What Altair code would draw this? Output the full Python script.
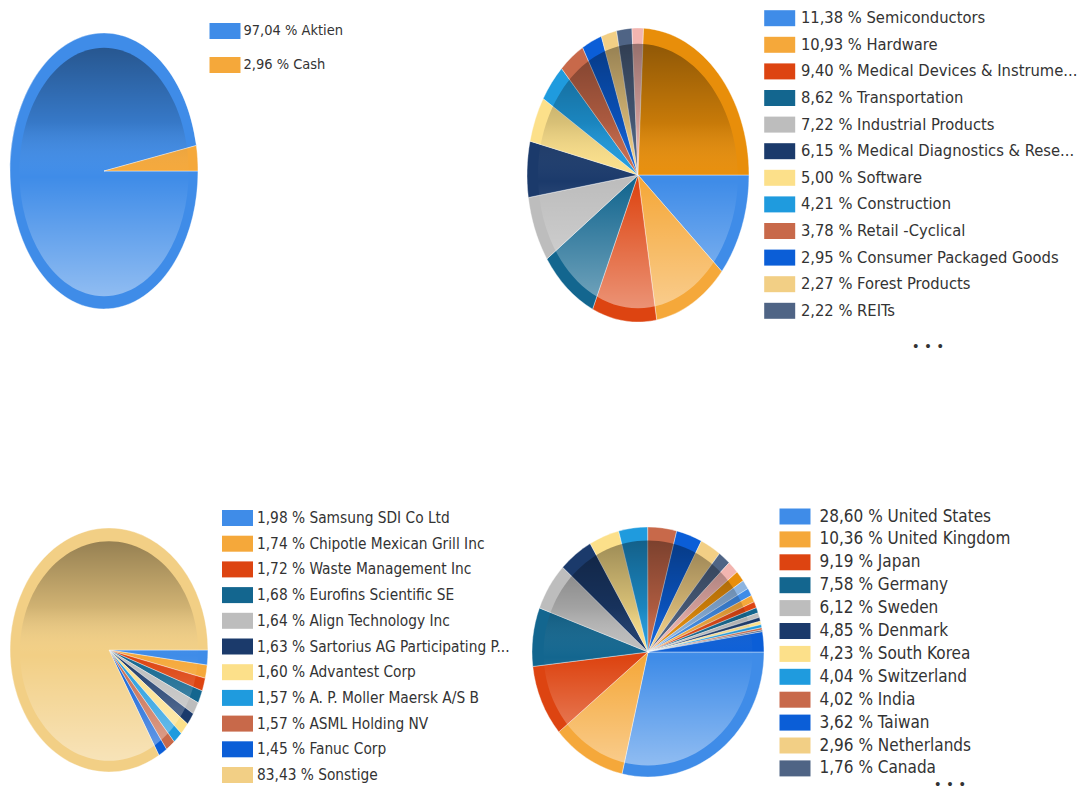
import altair as alt
import pandas as pd

FONT = "DejaVu Sans Condensed, DejaVu Sans"

alloc_labels = ["97,04 % Aktien", "2,96 % Cash"]
alloc_values = [97.04, 2.96]
alloc_colors = ["#3F8CE8", "#F5A83A"]

sector_labels = ["11,38 % Semiconductors", "10,93 % Hardware",
                 "9,40 % Medical Devices & Instrume...", "8,62 % Transportation",
                 "7,22 % Industrial Products", "6,15 % Medical Diagnostics & Rese...",
                 "5,00 % Software", "4,21 % Construction", "3,78 % Retail -Cyclical",
                 "2,95 % Consumer Packaged Goods", "2,27 % Forest Products",
                 "2,22 % REITs", "1,67 % Weitere", "24,20 % Sonstige"]
sector_values = [11.38, 10.93, 9.40, 8.62, 7.22, 6.15, 5.00, 4.21, 3.78, 2.95,
                 2.27, 2.22, 1.67, 24.20]
sector_colors = ["#3F8CE8", "#F5A83A", "#DD4411", "#13668F", "#BDBDBD", "#1B3A6B",
                 "#FCE08A", "#1F9BDE", "#C8694A", "#0B5ED7", "#F2CF85", "#4F6485",
                 "#F2B5B0", "#E88E0A"]
sector_shown = 12

holding_labels = ["1,98 % Samsung SDI Co Ltd", "1,74 % Chipotle Mexican Grill Inc",
                  "1,72 % Waste Management Inc", "1,68 % Eurofins Scientific SE",
                  "1,64 % Align Technology Inc", "1,63 % Sartorius AG Participating P...",
                  "1,60 % Advantest Corp", "1,57 % A. P. Moller Maersk A/S B",
                  "1,57 % ASML Holding NV", "1,45 % Fanuc Corp", "83,43 % Sonstige"]
holding_values = [1.98, 1.74, 1.72, 1.68, 1.64, 1.63, 1.60, 1.57, 1.57, 1.45, 83.43]
holding_colors = ["#3F8CE8", "#F5A83A", "#DD4411", "#13668F", "#BDBDBD", "#1B3A6B",
                  "#FCE08A", "#1F9BDE", "#C8694A", "#0B5ED7", "#F2CF85"]
holding_shown = 11

country_labels = ["28,60 % United States", "10,36 % United Kingdom", "9,19 % Japan",
                  "7,58 % Germany", "6,12 % Sweden", "4,85 % Denmark",
                  "4,23 % South Korea", "4,04 % Switzerland", "4,02 % India",
                  "3,62 % Taiwan", "2,96 % Netherlands", "1,76 % Canada",
                  "1,60 % France", "1,40 % Finland", "1,20 % Norway", "1,00 % Spain",
                  "0,90 % Italy", "0,80 % Australia", "0,70 % Ireland",
                  "0,60 % Belgium", "0,50 % Israel", "0,45 % Singapore",
                  "0,40 % Austria", "0,30 % Brazil", "0,22 % Mexico",
                  "2,60 % Sonstige"]
country_values = [28.60, 10.36, 9.19, 7.58, 6.12, 4.85, 4.23, 4.04, 4.02, 3.62, 2.96,
                  1.76, 1.60, 1.40, 1.20, 1.00, 0.90, 0.80, 0.70, 0.60, 0.50, 0.45,
                  0.40, 0.30, 0.22, 2.60]
country_colors = ["#3F8CE8", "#F5A83A", "#DD4411", "#13668F", "#BDBDBD", "#1B3A6B",
                  "#FCE08A", "#1F9BDE", "#C8694A", "#0B5ED7", "#F2CF85", "#4F6485",
                  "#F2B5B0", "#E88E0A", "#8CB4E0", "#3F8CE8", "#F5A83A", "#DD4411",
                  "#13668F", "#BDBDBD", "#1B3A6B", "#FCE08A", "#1F9BDE", "#C8694A",
                  "#4F6485", "#0B5ED7"]
country_shown = 12

# legend swatch: 31 x 16 px drawn with a 16 px nominal symbol size
SWATCH = "M-1.9375,-1H1.9375V1H-1.9375Z"

GRAD = alt.LinearGradient(
    gradient="linear", x1=0, x2=0, y1=0, y2=1,
    stops=[alt.GradientStop(color="rgba(0,0,0,0.38)", offset=0),
           alt.GradientStop(color="rgba(0,0,0,0.14)", offset=0.3),
           alt.GradientStop(color="rgba(255,255,255,0)", offset=0.52),
           alt.GradientStop(color="rgba(255,255,255,0.42)", offset=1)])


def rnd(e):
    return "(round((%s)*100000)/100000)" % e


def pie(labels, values, colors, shown, cx, cy, ry_px, aspect, lx, ly, row_pad,
        font_size, label_offset):
    df = pd.DataFrame({"label": labels, "value": values,
                       "idx": list(range(len(labels)))})
    size = (2 * ry_px) ** 2
    rx = aspect
    path = (
        "'M0,0L' + " + rnd("%s*cos(datum.a0)" % rx) + " + ',' + " + rnd("sin(datum.a0)") +
        " + 'A%s,1 0 ' + (datum.a1 - datum.a0 > PI ? '1' : '0') + ' 1 ' + " % rx +
        rnd("%s*cos(datum.a1)" % rx) + " + ',' + " + rnd("sin(datum.a1)") + " + 'Z'"
    )
    wedges = (
        alt.Chart(df)
        .transform_joinaggregate(total="sum(value)")
        .transform_window(cum="sum(value)", sort=[alt.SortField("idx")])
        .transform_calculate(a0="2*PI*(datum.cum - datum.value)/datum.total",
                             a1="2*PI*datum.cum/datum.total")
        .transform_calculate(wpath=path)
        .mark_point(filled=True, opacity=1, stroke="white", strokeWidth=0.7,
                    strokeOpacity=0.55)
        .encode(
            x=alt.value(cx), y=alt.value(cy), size=alt.value(size),
            shape=alt.Shape("wpath:N", scale=None),
            color=alt.Color(
                "label:N",
                scale=alt.Scale(domain=labels, range=colors),
                legend=alt.Legend(
                    orient="none", legendX=lx, legendY=ly, title=None,
                    values=labels[:shown], symbolType=SWATCH, symbolSize=256,
                    symbolStrokeWidth=0, symbolOpacity=1, labelFont=FONT,
                    labelFontSize=font_size, labelColor="#333333", labelLimit=500,
                    rowPadding=row_pad, padding=0, labelOffset=label_offset),
            ),
        )
    )
    inner = 0.9
    ell = "'M%(rx)s,0A%(rx)s,1 0 1 1 -%(rx)s,0A%(rx)s,1 0 1 1 %(rx)s,0Z'" % {"rx": rx}
    overlay = (
        alt.Chart(df)
        .transform_aggregate(n="count()")
        .transform_calculate(epath=ell)
        .mark_point(filled=True, opacity=1, strokeWidth=0, fill=GRAD)
        .encode(x=alt.value(cx), y=alt.value(cy + 1),
                size=alt.value(size * inner ** 2),
                shape=alt.Shape("epath:N", scale=None))
    )
    return [wedges, overlay]


layers = []
layers += pie(alloc_labels, alloc_values, alloc_colors, 2,
              96, 163, 138, 0.681, 209, 15, 18, 14.5, 10.5)
layers += pie(sector_labels, sector_values, sector_colors, sector_shown,
              630, 167, 147, 0.755, 763.5, 2, 9.6, 16.4, 13)
layers += pie(holding_labels, holding_values, holding_colors, holding_shown,
              101, 642, 122, 0.811, 221.5, 502, 8.7, 15.3, 11.5)
layers += pie(country_labels, country_values, country_colors, country_shown,
              640, 644, 125, 0.928, 778.5, 500, 4.9, 17, 16)

dots_df = pd.DataFrame({"t": ["• • •"]})
for dx, dy in [(920, 339), (942, 777)]:
    layers.append(
        alt.Chart(dots_df).mark_text(font="DejaVu Sans", fontSize=13.5,
                                     color="#333333")
        .encode(text="t:N", x=alt.value(dx), y=alt.value(dy))
    )

chart = (
    alt.layer(*layers)
    .resolve_scale(color="independent")
    .properties(width=1070, height=782, autosize="none", padding=0)
    .configure_view(strokeWidth=0)
)

chart.save("out.html", embed_options={"renderer": "svg", "actions": False})
